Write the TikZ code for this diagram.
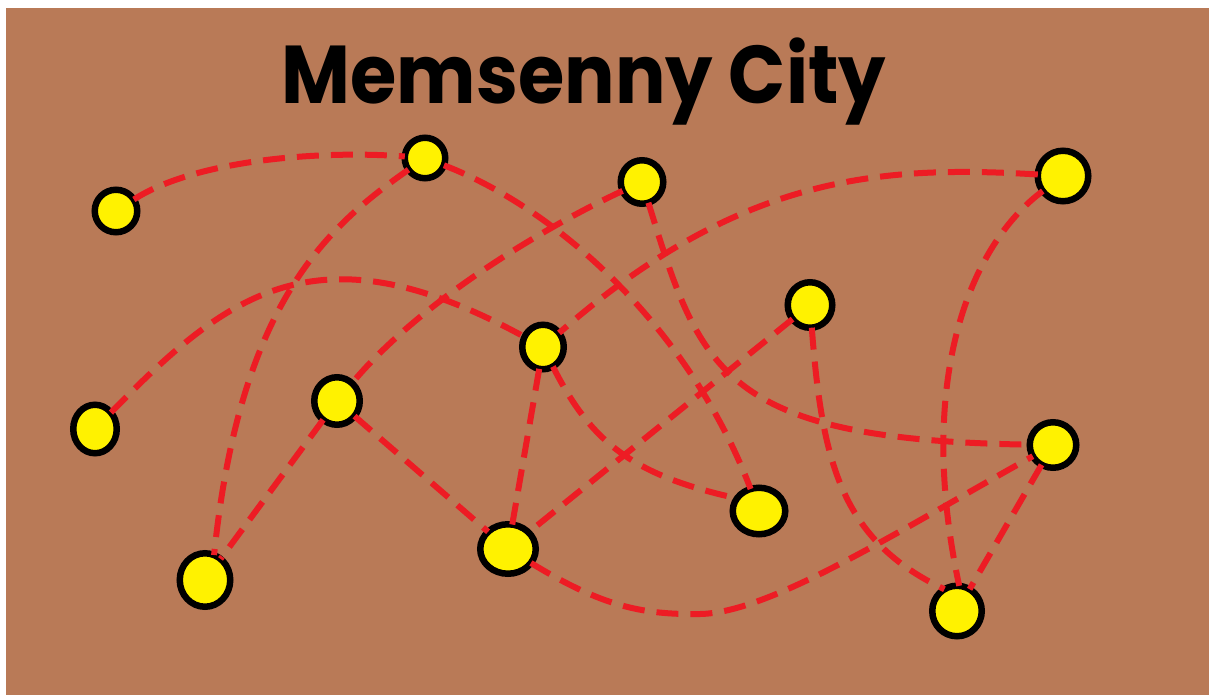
\documentclass[tikz,border=0pt]{standalone}
\usepackage{fontspec}
\newfontfamily\titlefont{Poppins}
\usetikzlibrary{shapes.geometric}
\definecolor{paintbrown}{RGB}{185,122,87}
\definecolor{paintred}{RGB}{237,28,36}
\definecolor{paintyellow}{RGB}{255,242,0}

\begin{document}
\begin{tikzpicture}[x=1pt,y=-1pt,
  station/.style 2 args={ellipse, draw=black, line width=6.5pt, fill=paintyellow,
    inner sep=0pt, outer sep=0pt, minimum width=#1pt-6.5pt, minimum height=#2pt-6.5pt},
  road/.style={draw=paintred, line width=6pt, dash pattern=on 22pt off 12pt}]

% canvas
\useasboundingbox (0,0) rectangle (1209,695);
\fill[white] (0,0) rectangle (1209,695);
\fill[paintbrown] (6,8) rectangle (1209,695);

% title
\node[anchor=base, inner sep=0pt] (title) at (584,104)
  {\scalebox{0.915}[1]{\titlefont\bfseries\fontsize{82}{82}\selectfont Memsenny City}};

% stations
\node[station={49}{49}] (A) at (116,211) {};
\node[station={47}{47}] (B) at (425,158) {};
\node[station={49}{50}] (C) at (642,182) {};
\node[station={57}{57}] (D) at (1063,176) {};
\node[station={51}{52}] (E) at (810,305) {};
\node[station={48}{51}] (F) at (543,347) {};
\node[station={52}{54}] (G) at (337,401) {};
\node[station={50}{55}] (H) at (95,429) {};
\node[station={53}{52}] (I) at (1053,445) {};
\node[station={59}{53}] (J) at (759,511) {};
\node[station={62}{56}] (K) at (508,549) {};
\node[station={57}{60}] (L) at (205,580) {};
\node[station={56}{57}] (M) at (957,611) {};

% roads
\draw[road] (A) .. controls (195,160) and (320,150) .. (B);
\draw[road] (B) .. controls (330,225) and (240,300) .. (L.70);
\draw[road] (B) .. controls (560,210) and (690,330) .. (J);
\draw[road] (C) .. controls (570,215) and (430,290) .. (G);
\draw[road] (C) .. controls (700,370) and (720,440) .. (I);
\draw[road] (D) .. controls (880,165) and (740,175) .. (F);
\draw[road] (D) .. controls (970,245) and (915,380) .. (M.85);
\draw[road] (H) .. controls (230,290) and (320,225) .. (F);
\draw[road] (F) .. controls (590,440) and (630,475) .. (J.150);
\draw[road] (F) -- (K);
\draw[road] (E) -- (K);
\draw[road] (E) .. controls (822,460) and (840,540) .. (M.120);
\draw[road] (G) -- (L);
\draw[road] (G) -- (K);
\draw[road] (K) .. controls (600,605) and (640,615) .. (700,614)
                .. controls (770,613) and (900,530) .. (I);
\draw[road] (I) -- (M);
\end{tikzpicture}
\end{document}
